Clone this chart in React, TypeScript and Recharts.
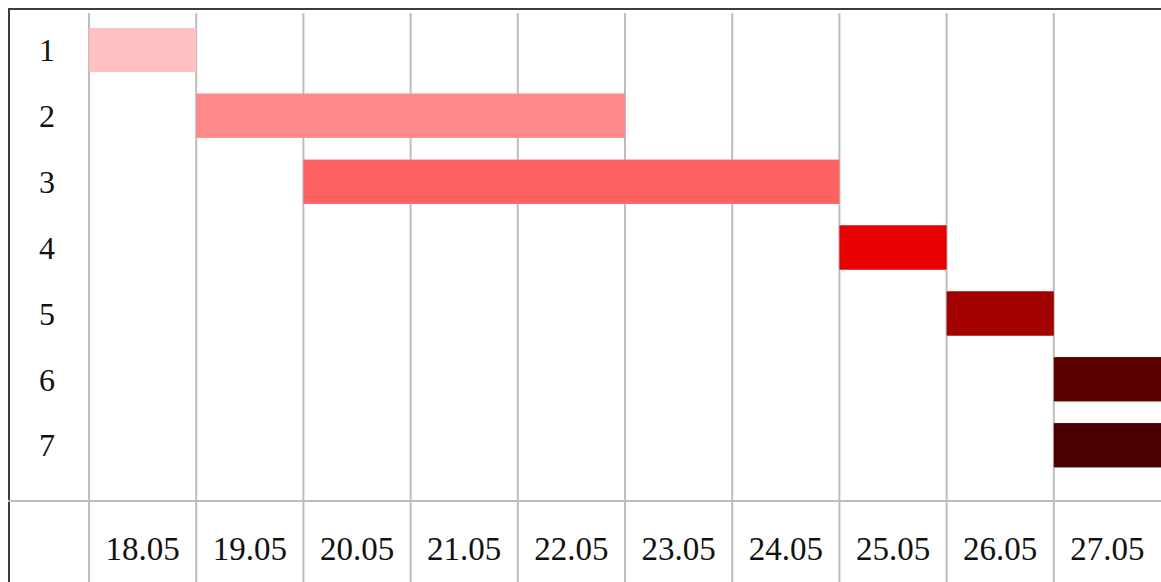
import { BarChart, Bar, XAxis, YAxis, Cell } from 'recharts'

// tasks and the day each one starts / ends (index into dates, end exclusive)
const tasks = ['1', '2', '3', '4', '5', '6', '7']
const dates = ['18.05', '19.05', '20.05', '21.05', '22.05', '23.05', '24.05', '25.05', '26.05', '27.05']
const startDay = [0, 1, 2, 7, 8, 9, 9]
const endDay = [1, 5, 7, 8, 9, 10, 10]
const colors = ['#ffc0c4', '#ff8888', '#ff6161', '#e60000', '#a30000', '#5c0000', '#4a0000']

const data = tasks.map((t, i) => ({ task: t, span: [startDay[i], endDay[i]] }))
// whole numbers = day boundaries (grid lines), halves = day labels
const xTicks = dates.flatMap((_, i) => [i, i + 0.5])

const font = '"Liberation Serif", "Times New Roman", serif'
const line = '#bdbdbd'
const ink = '#111'
const W = 1151
const H = 572
const TOP = 3
const LABEL_W = 79
const yPad = { top: 4, bottom: 104 }

const DayTick = (props: any) => {
  const { x, y, payload } = props
  const v = payload.value as number
  if (Number.isInteger(v)) {
    return <line x1={x} x2={x} y1={TOP} y2={H} stroke={line} strokeWidth={2} />
  }
  return (
    <text x={x} y={y} textAnchor="middle" fill={ink} fontSize={33} fontFamily={font}>
      {dates[Math.floor(v)]}
    </text>
  )
}

const bars = () => (
  <Bar dataKey="span" barSize={44} isAnimationActive={false}>
    {data.map((d, i) => (
      <Cell key={d.task} fill={colors[i]} />
    ))}
  </Bar>
)

export default function App() {
  return (
    <div style={{ position: 'fixed', inset: 0, background: '#fff', overflow: 'hidden' }}>
      <div
        style={{
          position: 'absolute',
          left: 8,
          top: 8,
          width: 1153,
          height: 574,
          boxSizing: 'border-box',
          borderTop: '2px solid #3c3c3c',
          borderLeft: '2px solid #3c3c3c',
        }}
      >
        {/* table: labels and day lines */}
        <BarChart width={W} height={H} data={data} layout="vertical" margin={{ top: TOP, right: 0, bottom: 0, left: 0 }}>
          <XAxis
            type="number"
            domain={[0, 10]}
            ticks={xTicks}
            interval={0}
            mirror
            tick={<DayTick />}
            tickLine={false}
            axisLine={false}
            tickSize={0}
            tickMargin={22}
          />
          <YAxis
            type="category"
            dataKey="task"
            width={LABEL_W}
            padding={yPad}
            tickLine={false}
            axisLine={false}
            tickSize={0}
            tickMargin={42}
            interval={0}
            tick={{ fill: ink, fontSize: 32, fontFamily: font, textAnchor: 'middle' }}
          />
          {bars()}
        </BarChart>
        {/* same bars again on top so they cover the day lines */}
        <div style={{ position: 'absolute', left: 0, top: 0 }}>
          <BarChart
            width={W}
            height={H}
            data={data}
            layout="vertical"
            margin={{ top: TOP, right: 0, bottom: 0, left: LABEL_W }}
          >
            <XAxis type="number" domain={[0, 10]} hide />
            <YAxis type="category" dataKey="task" padding={yPad} hide />
            {bars()}
          </BarChart>
        </div>
        <div style={{ position: 'absolute', left: -2, top: 490, width: 1153, height: 2, background: line }} />
      </div>
    </div>
  )
}
